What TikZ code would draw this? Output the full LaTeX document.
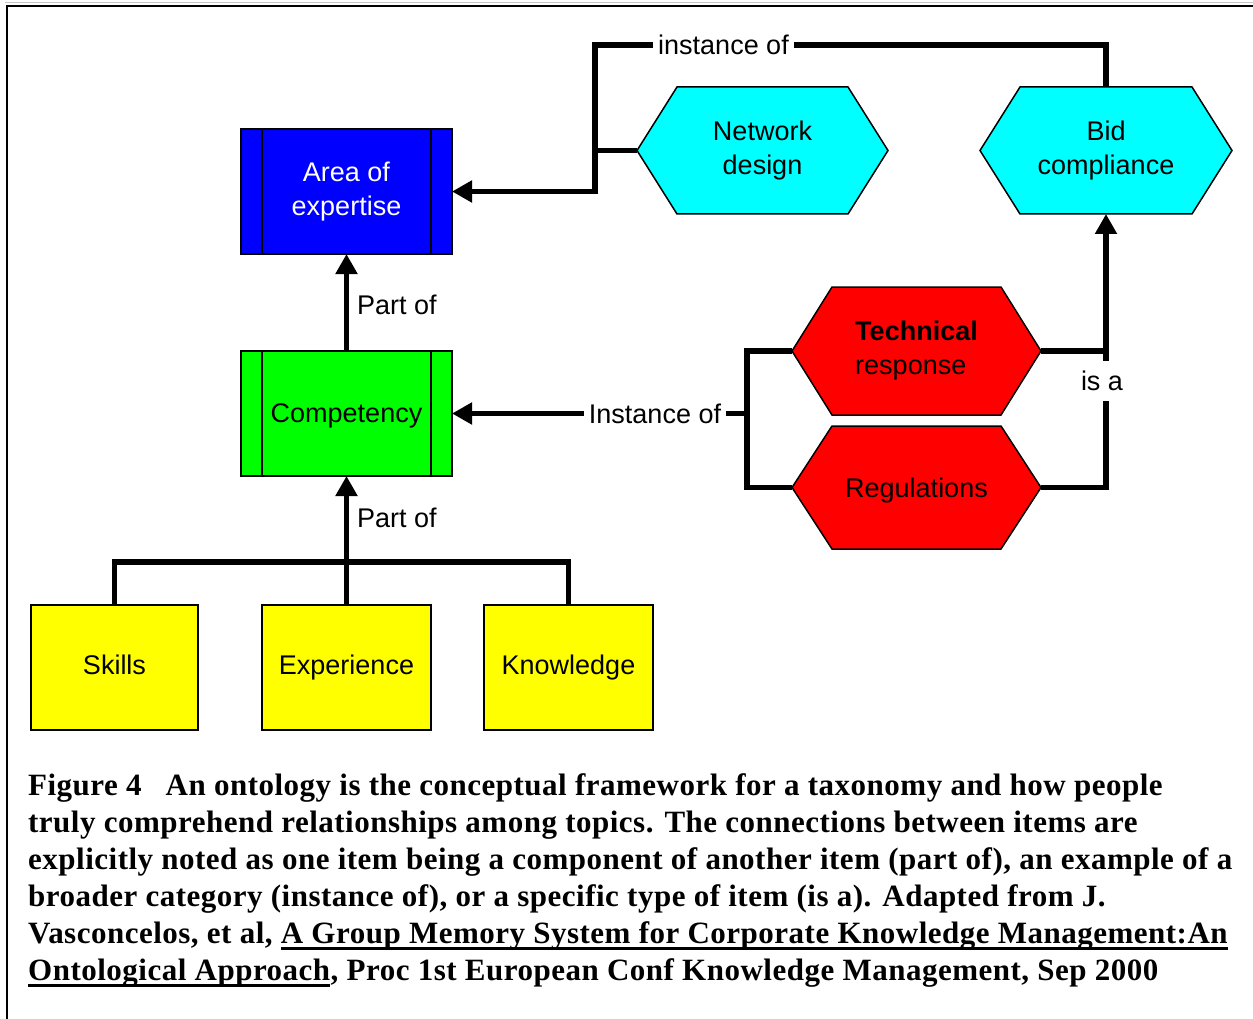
\documentclass[tikz,border=0pt]{standalone}
\usepackage{fontspec}
\setmainfont{Liberation Serif}
\newfontfamily\arialf{Liberation Sans}
\newlength{\myulw}
\newcommand{\myul}[1]{\settowidth{\myulw}{#1}\rlap{\rule[-7pt]{\myulw}{2.6pt}}#1}
\usetikzlibrary{arrows.meta,backgrounds,calc}
\definecolor{cyanx}{RGB}{0,255,255}
\definecolor{yellowx}{RGB}{255,255,0}
\definecolor{greenx}{RGB}{0,255,0}
\definecolor{bluex}{RGB}{0,0,255}
\definecolor{redx}{RGB}{255,0,0}
\tikzset{
  dfont/.style={font=\arialf\fontsize{27}{34}\selectfont},
  box/.style={draw=black, line width=1.5pt, inner sep=0pt, outer sep=0pt, dfont, align=center},
  hexnode/.style={inner sep=0pt, outer sep=0pt, dfont, align=center},
  conn/.style={line width=5.5pt, draw=black},
  arr/.style={-{Triangle[length=20pt,width=21pt]}},
  lbl/.style={dfont, inner sep=3pt, text=black},
  hexline/.style={draw=black, line width=1.5pt},
}
\newcommand{\hexpath}[3]{%
  \path[hexline, fill=#3] (#1.west) -- ([xshift=#2]#1.north west) -- ([xshift=-#2]#1.north east) -- (#1.east) -- ([xshift=-#2]#1.south east) -- ([xshift=#2]#1.south west) -- cycle;}
\newcommand{\innerlines}[1]{%
  \draw[line width=1.5pt] ([xshift=21pt]#1.north west) -- ([xshift=21pt]#1.south west);
  \draw[line width=1.5pt] ([xshift=-21pt]#1.north east) -- ([xshift=-21pt]#1.south east);}
\begin{document}
\begin{tikzpicture}[x=1pt,y=-1pt]
\useasboundingbox (0,0) rectangle (1253,1019);
% frame
\draw[gray!45, line width=1pt] (5,3) -- (1253,3);
\draw[black, line width=2.6pt] (7,1019) -- (7,6) -- (1253,6);

% rectangles
\node[box, fill=bluex, text=white, minimum width=211pt, minimum height=125pt] (aoe) at (346.5,191.5) {Area of\\expertise};
\node[box, fill=greenx, minimum width=211pt, minimum height=125pt] (comp) at (346.5,413.5) {\rule{0pt}{24pt}Competency};
\innerlines{aoe}
\innerlines{comp}
\node[box, fill=yellowx, minimum width=167pt, minimum height=125pt] (sk) at (114.5,667.5) {Skills\vphantom{p}};
\node[box, fill=yellowx, minimum width=169pt, minimum height=125pt] (ex) at (346.5,667.5) {Experience};
\node[box, fill=yellowx, minimum width=169pt, minimum height=125pt] (kn) at (568.5,667.5) {Knowledge};

% hexagons
\node[hexnode, minimum width=251pt, minimum height=127pt] (nd) at (762.5,150.5) {Network\\design};
\node[hexnode, minimum width=252pt, minimum height=127pt] (bid) at (1106,150.5) {Bid\\compliance};
\node[hexnode, minimum width=249pt, minimum height=128pt, align=left] (tr) at (916.5,351) {\textbf{Technical}\\response};
\node[hexnode, minimum width=249pt, minimum height=123pt] (reg) at (916.5,487.5) {\rule{0pt}{26pt}Regulations};
\begin{scope}[on background layer]
\hexpath{nd}{40pt}{cyanx}
\hexpath{bid}{40pt}{cyanx}
\hexpath{tr}{40pt}{redx}
\hexpath{reg}{40pt}{redx}
\end{scope}

% connectors
\coordinate (t1) at (595,45);
\draw[conn, arr] (bid.north) |- (t1) |- (aoe.east);
\draw[conn] (nd.west) -- (nd.west -| t1);
\node[lbl, fill=white, inner xsep=5pt] (lio) at (723.5,45) {instance of};

\draw[conn, arr] (comp.north) -- (aoe.south);
\node[lbl, anchor=west] (lp1) at (354,305) {Part of};

\coordinate (h) at (346.5,562);
\draw[conn] (sk.north) |- (h) -| (kn.north);
\draw[conn, arr] (ex.north) -- (comp.south);
\node[lbl, anchor=west] (lp2) at (354,518) {Part of};

\coordinate (m) at (747,413.5);
\draw[conn] (tr.west) -| (m);
\draw[conn] (reg.west) -| (m);
\draw[conn, arr] (m) -- (comp.east);
\node[lbl, fill=white, inner xsep=5pt] (lio2) at (655,413.5) {Instance of};

\coordinate (i) at (1106,380);
\draw[conn] (tr.east) -| (i);
\draw[conn] (reg.east) -| (i);
\draw[conn, arr] (i) -- (bid.south);
\node[lbl, fill=white, minimum height=40pt] (lisa) at (1102,381) {is a};

% caption
\node[anchor=north west, inner sep=0pt, align=left, font=\bfseries\fontsize{31}{37}\selectfont\addfontfeature{LetterSpace=1.6}] (cap) at (28,773) {%
Figure 4\hspace{24pt}An ontology is the conceptual framework for a taxonomy and how people\\
truly comprehend relationships among topics. The connections between items are\\
explicitly noted as one item being a component of another item (part of), an example of a\\
broader category (instance of), or a specific type of item (is a). Adapted from J.\\
Vasconcelos, et al, \myul{A Group Memory System for Corporate Knowledge Management:An}\\
\myul{Ontological Approach}, Proc 1st European Conf Knowledge Management, Sep 2000};
\end{tikzpicture}
\end{document}
